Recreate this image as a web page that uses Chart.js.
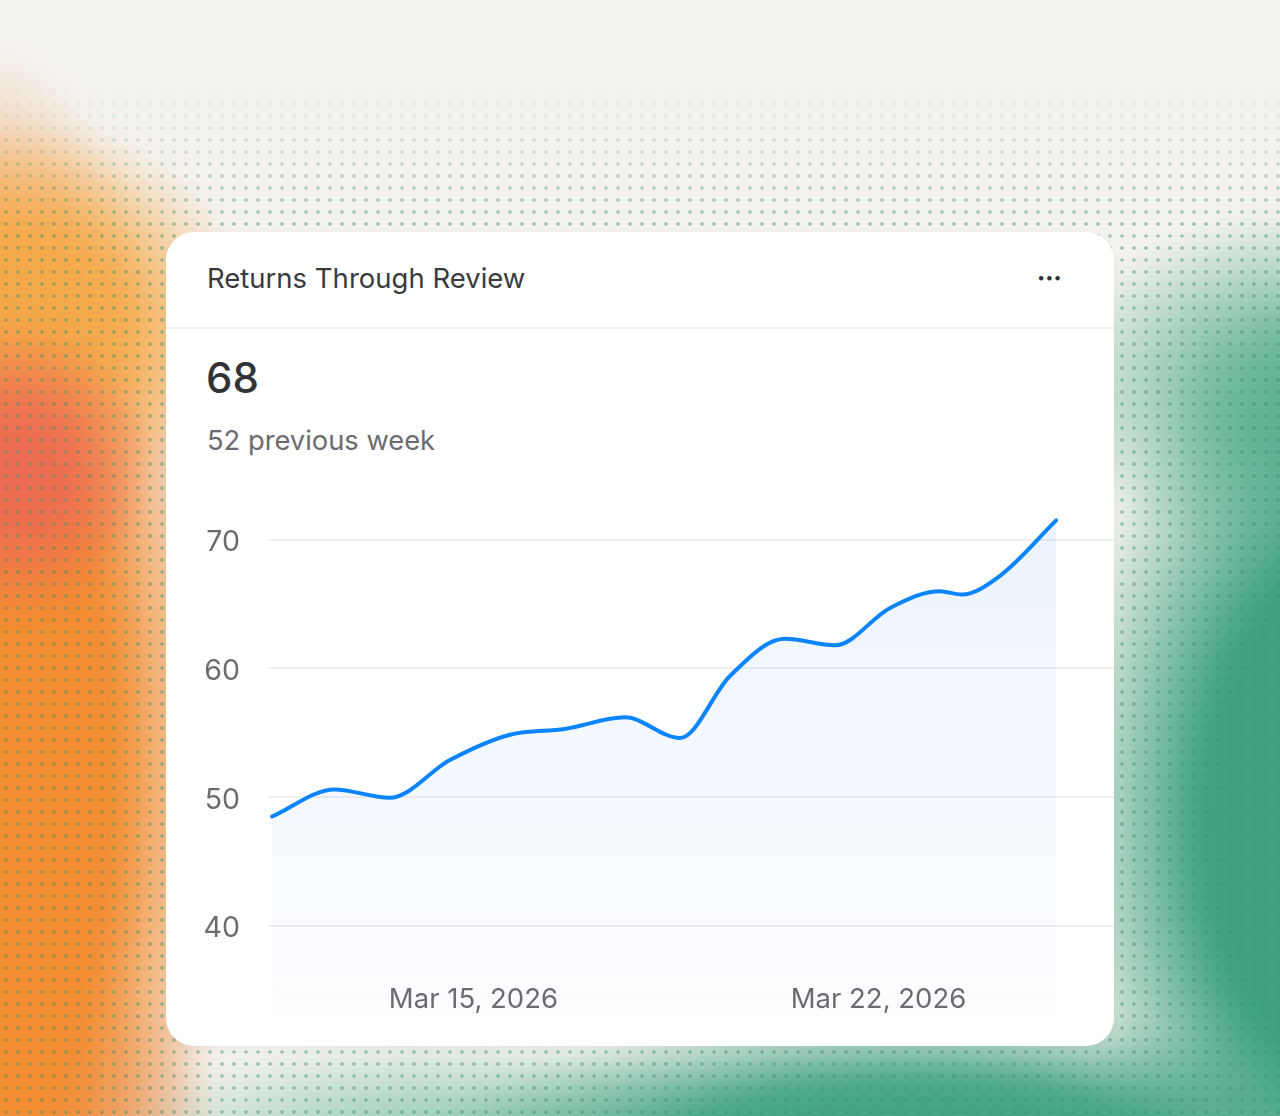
<!DOCTYPE html>
<html>
<head>
<meta charset="utf-8">
<script src="https://cdn.jsdelivr.net/npm/chart.js@4.4.1/dist/chart.umd.min.js"></script>
<style>
  html, body { margin: 0; padding: 0; }
  body {
    width: 1280px; height: 1116px; overflow: hidden; position: relative;
    background: #f4f2ee; font-family: Inter, "Noto Sans", sans-serif;
  }
  .blobs {
    position: absolute; left: -60px; top: -60px; width: 1400px; height: 1236px;
    background:
      radial-gradient(ellipse 140px 150px at 75px 530px, rgba(236,106,84,1) 0%, rgba(236,106,84,0.85) 40%, rgba(236,106,84,0) 100%),
      radial-gradient(ellipse 230px 200px at 80px 380px, rgba(245,168,70,1) 0%, rgba(245,168,70,0.9) 45%, rgba(245,168,70,0) 100%),
      radial-gradient(ellipse 250px 720px at 40px 830px, rgba(242,141,50,1) 0%, rgba(242,141,50,1) 55%, rgba(242,141,50,0) 100%),
      radial-gradient(ellipse 200px 150px at 80px 1170px, rgba(214,128,92,0.9) 0%, rgba(214,128,92,0) 100%),
      radial-gradient(ellipse 280px 520px at 1400px 880px, rgba(62,162,128,1) 0%, rgba(62,162,128,1) 50%, rgba(62,162,128,0) 100%),
      radial-gradient(ellipse 260px 180px at 1370px 450px, rgba(100,180,148,1) 0%, rgba(100,180,148,0.8) 40%, rgba(100,180,148,0) 100%),
      radial-gradient(ellipse 500px 140px at 980px 1210px, rgba(64,162,130,1) 0%, rgba(64,162,130,0.95) 50%, rgba(64,162,130,0) 100%),
      radial-gradient(ellipse 340px 100px at 510px 1200px, rgba(130,196,166,0.9) 0%, rgba(130,196,166,0.6) 40%, rgba(130,196,166,0) 100%);
    filter: blur(12px);
  }
  .dots {
    position: absolute; inset: 0;
    background-image: radial-gradient(circle, rgba(60,145,110,0.45) 1.5px, transparent 1.9px);
    background-size: 12px 12px;
    background-position: 0 2px;
    -webkit-mask-image: linear-gradient(to bottom, transparent 80px, #000 220px);
    mask-image: linear-gradient(to bottom, transparent 80px, #000 220px);
  }
  .card {
    position: absolute; left: 166px; top: 232px; width: 948px; height: 814px;
    background: #fff; border-radius: 28px; overflow: hidden;
    box-shadow: 0 2px 10px rgba(0,0,0,0.04);
  }
  .title {
    position: absolute; left: 41px; top: 29px; font-size: 27.5px; color: #3a3a3d;
  }
  .more {
    position: absolute; left: 871px; top: 33px; font-size: 22px; color: #333; font-weight: 900;
    line-height: 26px;
  }
  .divider { position: absolute; left: 0; right: 0; top: 95px; height: 2px; background: #f0f0f0; }
  .big { position: absolute; left: 40px; top: 120px; font-size: 42px; color: #333335; font-weight: 500; }
  .sub { position: absolute; left: 41px; top: 192px; font-size: 27.3px; color: #6c6c70; }
  #wrap { position: absolute; left: 29px; top: 268px; width: 919px; height: 546px; }
</style>
</head>
<body>
<div class="blobs"></div>
<div class="dots"></div>
<div class="card">
  <div class="title">Returns Through Review</div>
  <div class="more">···</div>
  <div class="divider"></div>
  <div class="big">68</div>
  <div class="sub">52 previous week</div>
  <div id="wrap"><canvas id="chart" width="919" height="546"></canvas></div>
</div>
<script>
// x = day of March 2026, y = returns through review
const dayValues = [11.52, 12.6, 13.55, 14.6, 15.63, 16.58, 17.62, 18.57, 19.43, 20.38, 21.25, 22.2, 23.06, 23.44, 24.1, 25.07];
const returns   = [48.5, 50.6, 49.95, 52.9, 54.85, 55.3, 56.2, 54.6, 59.4, 62.3, 61.8, 64.7, 66.0, 65.75, 67.2, 71.5];

const xTickDays   = [15, 22];
const xTickLabels = ['Mar 15, 2026', 'Mar 22, 2026'];
const yTicks      = [40, 50, 60, 70];

const tickFont = { family: 'Inter, "Noto Sans", sans-serif', size: 27.5 };

const ctx = document.getElementById('chart').getContext('2d');
new Chart(ctx, {
  type: 'line',
  data: {
    datasets: [{
      data: dayValues.map((d, i) => ({ x: d, y: returns[i] })),
      borderColor: '#0a84ff',
      borderWidth: 4,
      borderCapStyle: 'round',
      pointRadius: 0,
      cubicInterpolationMode: 'monotone',
      fill: 'start',
      backgroundColor: c => {
        const a = c.chart.chartArea;
        if (!a) return 'rgba(10,110,255,0.05)';
        const g = c.chart.ctx.createLinearGradient(0, a.top, 0, a.bottom);
        g.addColorStop(0, 'rgba(20,110,255,0.08)');
        g.addColorStop(1, 'rgba(20,110,255,0.01)');
        return g;
      },
    }],
  },
  options: {
    responsive: false,
    animation: false,
    layout: { padding: { top: 14, right: 0, left: 0, bottom: 0 } },
    plugins: { legend: { display: false }, tooltip: { enabled: false } },
    scales: {
      x: {
        type: 'linear',
        min: 11.45,
        max: 26.07,
        afterBuildTicks: s => { s.ticks = xTickDays.map(v => ({ value: v })); },
        afterFit: s => { s.height = 30; s.paddingLeft = 0; s.paddingRight = 0; },
        ticks: {
          color: '#6c6c70', font: tickFont, mirror: true, padding: 0, maxRotation: 0,
          callback: v => xTickLabels[xTickDays.indexOf(v)] ?? '',
        },
        grid: { display: false, drawTicks: false },
        border: { display: false },
      },
      y: {
        min: 33,
        max: 72,
        afterBuildTicks: s => { s.ticks = yTicks.map(v => ({ value: v })); },
        afterFit: s => { s.width = 73; s.paddingTop = 0; s.paddingBottom = 0; },
        ticks: { color: '#6c6c70', font: { ...tickFont, size: 28.5 }, padding: 28, labelOffset: 3 },
        grid: { color: '#efefef', lineWidth: 2, drawTicks: false },
        border: { display: false },
      },
    },
  },
});
</script>
</body>
</html>
